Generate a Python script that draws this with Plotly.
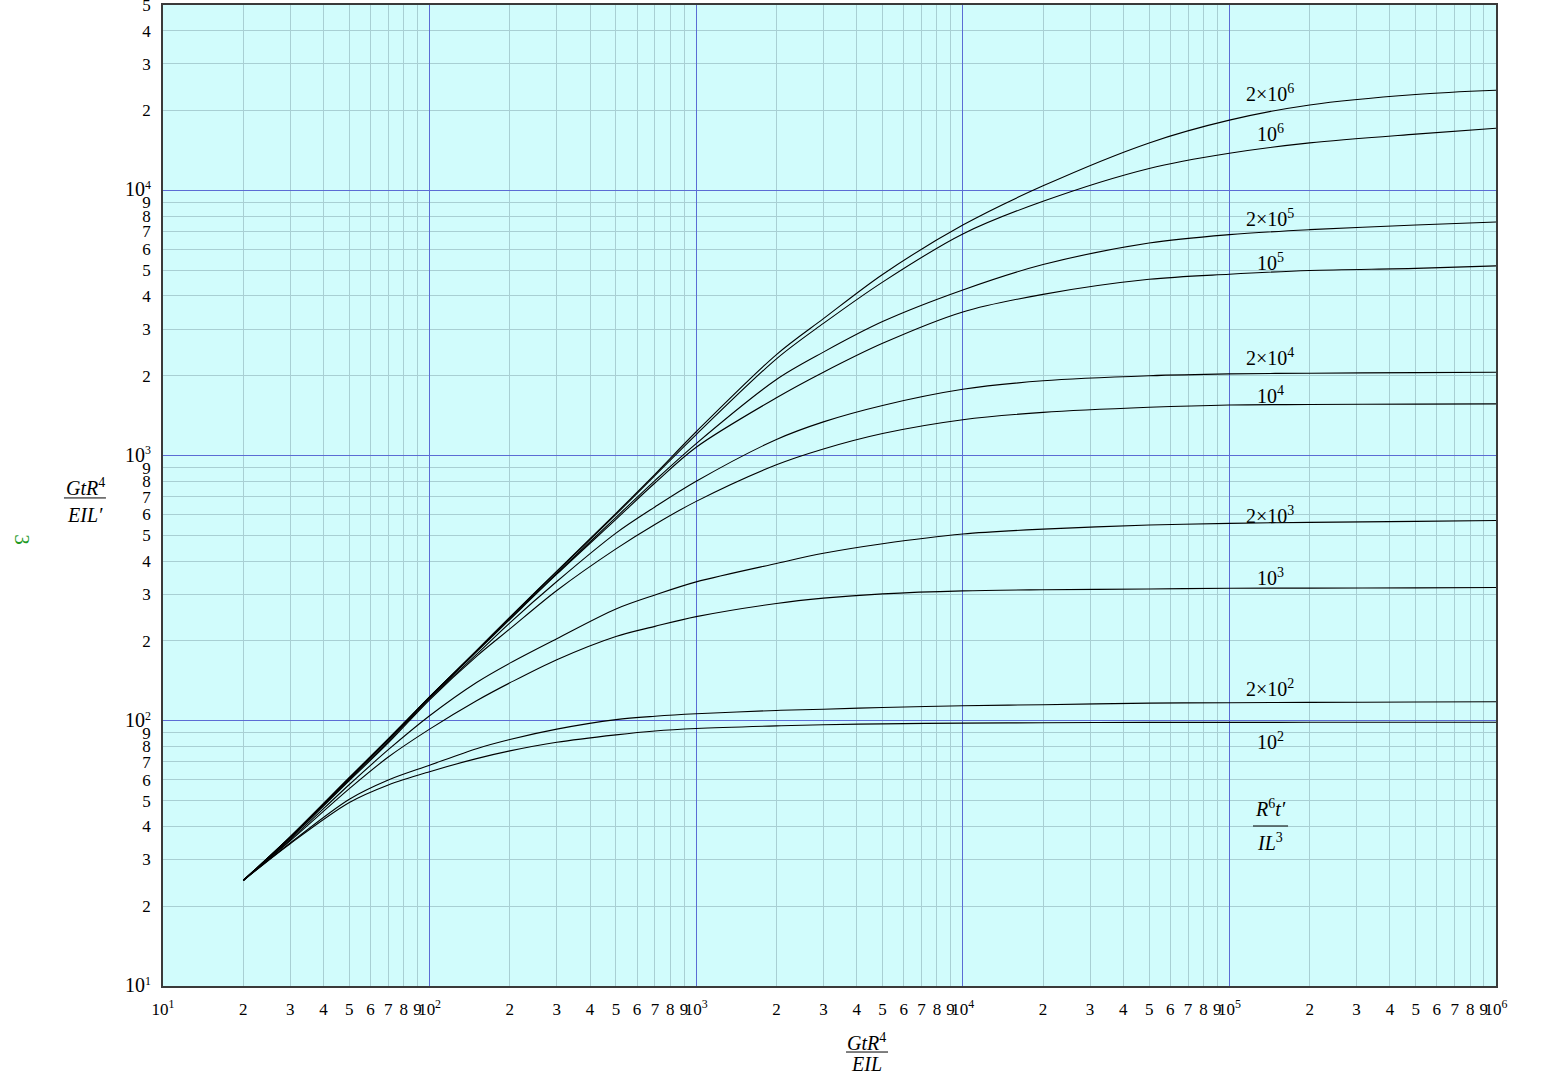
"""
Log-log design chart: GtR^4/EIL' against GtR^4/EIL for several values of R^6t'/IL^3.
"""
import math
import plotly.graph_objects as go

SERIF = "Liberation Serif, Times New Roman, serif"
PLOT_BG = "#d1fcfc"
MINOR_GRID = "#a8cfd3"
MAJOR_GRID = "#5b6cd4"

# abscissa GtR^4/EIL, shared by every curve
x_values = [20, 30, 50, 70, 100, 150, 200, 300, 500, 700, 1000, 2000, 3000,
            5000, 1e4, 2e4, 5e4, 1e5, 2e5, 5e5, 1e6]

curve_2e6 = [25, 36.5, 61, 85.5, 123, 184, 246, 367, 606, 850, 1230, 2404, 3283,
             4820, 7400, 10400, 15100, 18400, 21000, 23000, 23840]
curve_1e6 = [25, 36.5, 61, 85.5, 123, 184, 245, 365, 600, 840, 1200, 2316, 3150,
             4510, 6850, 9100, 12100, 13800, 15100, 16300, 17140]
curve_2e5 = [25, 36.5, 61, 85, 123, 183, 243, 360, 585, 805, 1110, 1936, 2455,
             3200, 4210, 5250, 6330, 6810, 7110, 7400, 7600]
curve_1e5 = [25, 36.4, 60.5, 84.5, 122, 182, 241, 357, 575, 788, 1075, 1652, 2062,
             2650, 3480, 4055, 4620, 4830, 4990, 5080, 5190]
curve_2e4 = [25, 36.2, 60, 83.5, 121, 178, 234, 335, 510, 640, 800, 1150, 1340,
             1545, 1778, 1914, 2000, 2033, 2045, 2055, 2062]
curve_1e4 = [25, 36, 59.5, 82.5, 120, 175, 222, 310, 445, 550, 672, 923, 1059,
             1211, 1365, 1455, 1521, 1552, 1558, 1563, 1566]
curve_2e3 = [25, 35.6, 57.5, 77.8, 104.5, 139.5, 165, 204, 264, 298, 334, 392, 428,
             465, 506, 528, 547, 555, 560, 565, 569]
curve_1e3 = [25, 35.3, 55.5, 73, 93, 119, 139, 170, 208, 227, 247, 277, 290,
             301, 309, 312, 314, 316, 316.5, 317, 318]
curve_2e2 = [25, 34.6, 50.6, 59.8, 68, 78.5, 85, 93, 101, 104, 106.3, 109.4, 110.6,
             112.3, 114, 115, 116.6, 117, 117.3, 117.7, 118]
curve_1e2 = [25, 34.4, 49.2, 57.3, 64.3, 72, 77, 83, 88.5, 91.5, 93.5, 95.7, 96.6,
             97.4, 98, 98.3, 98.6, 98.6, 98.7, 98.8, 98.8]

curves = [curve_2e6, curve_1e6, curve_2e5, curve_1e5, curve_2e4,
          curve_1e4, curve_2e3, curve_1e3, curve_2e2, curve_1e2]

curve_labels = ["2×10<sup>6</sup>", "10<sup>6</sup>", "2×10<sup>5</sup>", "10<sup>5</sup>",
                "2×10<sup>4</sup>", "10<sup>4</sup>", "2×10<sup>3</sup>", "10<sup>3</sup>",
                "2×10<sup>2</sup>", "10<sup>2</sup>"]
# label centres in paper units (they sit by the right-hand ends of the curves)
label_y = [0.910, 0.870, 0.783, 0.738, 0.641, 0.602, 0.480, 0.417, 0.304, 0.250]
LABEL_X = 0.8305


def log_ticks(first_exp, last_exp, top_value=None, decade_size=None):
    """Tick values and texts for a log axis: 10^n at decades, plain digits between."""
    vals, texts = [], []
    ten = "10" if decade_size is None else "<span style='font-size:%dpx'>10</span>" % decade_size
    for e in range(first_exp, last_exp + 1):
        for d in range(1, 10):
            v = d * 10 ** e
            if top_value is not None and v > top_value:
                return vals, texts
            vals.append(v)
            texts.append("%s<sup>%d</sup>" % (ten, e) if d == 1 else str(d))
            if e == last_exp and top_value is None:
                return vals, texts
    return vals, texts


def note(x, y, text, font, **kw):
    """Centered annotation in paper coordinates."""
    return dict(x=x, y=y, xref="paper", yref="paper", text=text, showarrow=False,
                xanchor="center", yanchor="middle", font=font, **kw)


def create_chart():
    """Build the figure."""
    fig = go.Figure()

    for ys in curves:
        fig.add_trace(go.Scatter(
            x=x_values, y=ys, mode="lines",
            line=dict(color="black", width=1.1, shape="spline", smoothing=0.9),
            showlegend=False, hoverinfo="skip"
        ))

    # empty trace so the overlay axes (decade grid) get drawn
    fig.add_trace(go.Scatter(x=[], y=[], xaxis="x2", yaxis="y2",
                             showlegend=False, hoverinfo="skip"))

    x_tv, x_tt = log_ticks(1, 6)
    y_tv, y_tt = log_ticks(1, 4, top_value=5e4, decade_size=20)
    y_top = math.log10(5e4)

    tickfont = dict(family=SERIF, size=17, color="black")
    common = dict(type="log", showgrid=True, gridcolor=MINOR_GRID, gridwidth=1,
                  showline=True, linecolor="#3a3a3a", linewidth=1.5, mirror=True,
                  ticks="outside", ticklen=7, tickcolor="rgba(0,0,0,0)",
                  tickfont=tickfont, tickangle=0, ticklabeloverflow="allow",
                  automargin=False, zeroline=False)
    over = dict(type="log", showgrid=True, gridcolor=MAJOR_GRID, gridwidth=1,
                showticklabels=False, ticks="", showline=False, zeroline=False,
                automargin=False)

    label_font = dict(family=SERIF, size=20, color="black")
    annotations = [note(LABEL_X, yy, text, label_font)
                   for text, yy in zip(curve_labels, label_y)]

    # parameter legend R^6t'/IL^3
    annotations.append(note(0.8305, 0.1814, "<i>R</i><sup>6</sup><i>t′</i>", label_font))
    annotations.append(note(0.8305, 0.1468, "<i>IL</i><sup>3</sup>", label_font))
    # y axis title
    annotations.append(note(-0.0585, 0.5087, "<i>GtR</i><sup>4</sup>", label_font))
    annotations.append(note(-0.0585, 0.4801, "<i>EIL′</i>", label_font))
    # x axis title
    annotations.append(note(0.5281, -0.0571, "<i>GtR</i><sup>4</sup>", label_font))
    annotations.append(note(0.5281, -0.0795, "<i>EIL</i>", label_font))
    # stray green page mark on the left
    annotations.append(note(-0.106, 0.4546, "3",
                            dict(family=SERIF, size=21, color="#1f9a1f"), textangle=90))

    bar = dict(type="line", xref="paper", yref="paper", line=dict(color="black", width=1))
    shapes = [
        dict(bar, x0=0.8177, x1=0.8440, y0=0.1631, y1=0.1631),
        dict(bar, x0=-0.0743, x1=-0.0428, y0=0.4975, y1=0.4975),
        dict(bar, x0=0.5124, x1=0.5439, y0=-0.0673, y1=-0.0673),
    ]

    fig.update_layout(
        width=1549, height=1077,
        margin=dict(l=163, r=53, t=5, b=91, autoexpand=False),
        plot_bgcolor=PLOT_BG, paper_bgcolor="white",
        xaxis=dict(common, range=[1, 6], tickvals=x_tv, ticktext=x_tt),
        yaxis=dict(common, range=[1, y_top], tickvals=y_tv, ticktext=y_tt),
        xaxis2=dict(over, overlaying="x", range=[1, 6],
                    tickvals=[10 ** e for e in range(1, 7)]),
        yaxis2=dict(over, overlaying="y", range=[1, y_top],
                    tickvals=[10 ** e for e in range(1, 5)]),
        annotations=annotations,
        shapes=shapes,
        showlegend=False,
        hovermode=False,
    )
    return fig


fig = create_chart()
fig.write_html("out.html", config={"displayModeBar": False},
               post_script="document.body.style.margin='0px';")
